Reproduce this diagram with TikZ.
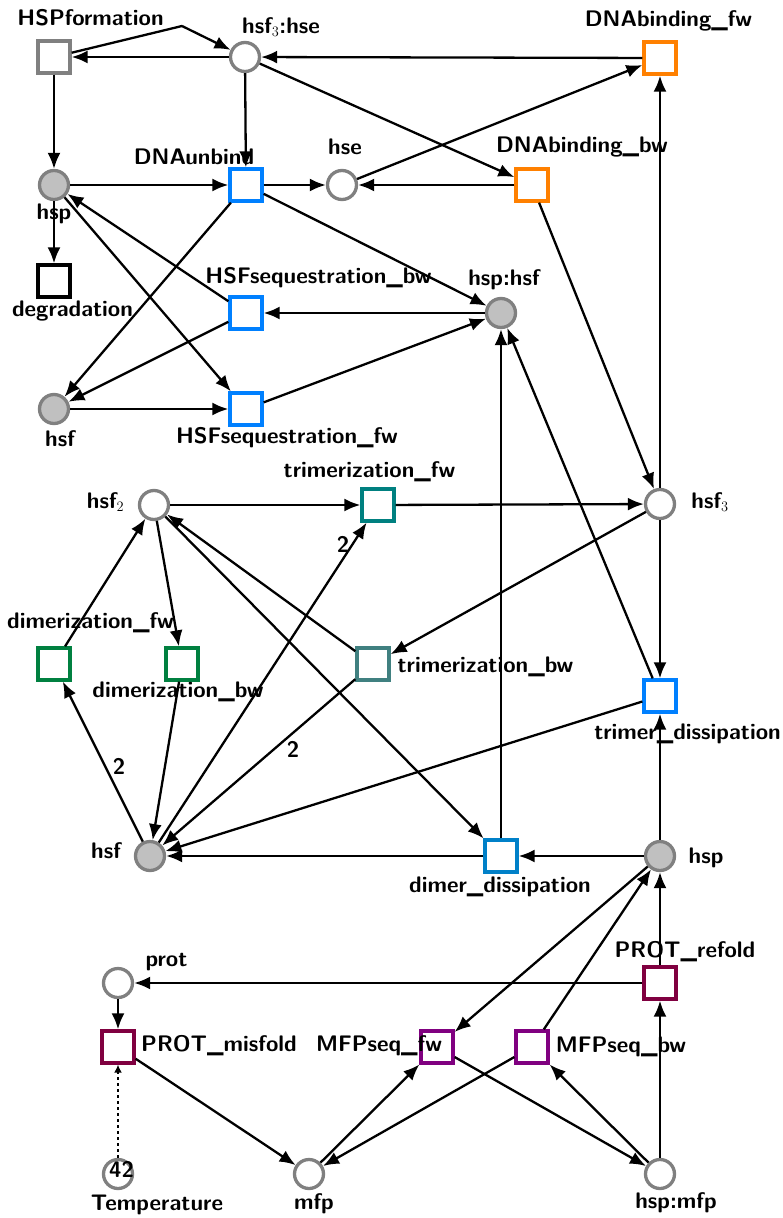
\documentclass[tikz,border=0pt]{standalone}
\usepackage{fontspec}
\usetikzlibrary{arrows.meta}
\definecolor{pgray}{RGB}{128,128,128}
\definecolor{pfill}{RGB}{192,192,192}
\definecolor{porange}{RGB}{255,128,0}
\definecolor{pblue}{RGB}{0,128,255}
\definecolor{pdblue}{RGB}{0,128,200}
\definecolor{pteal}{RGB}{0,128,128}
\definecolor{pgteal}{RGB}{64,128,128}
\definecolor{pgreen}{RGB}{0,128,64}
\definecolor{pmaroon}{RGB}{128,0,64}
\definecolor{ppurple}{RGB}{128,0,128}
\begin{document}
\begin{tikzpicture}[x=1pt,y=-1pt,
 place/.style={circle,draw=pgray,line width=3.3pt,minimum size=29pt,inner sep=0pt,fill=white},
 token/.style={place,fill=pfill},
 trans/.style={rectangle,line width=3.3pt,minimum size=32pt,inner sep=0pt,fill=white},
 lbl/.style={font=\fontsize{22.5}{27}\selectfont\sffamily\bfseries,inner sep=0pt,anchor=base},
 arc/.style={line width=2.3pt,-{Latex[length=16pt,width=13pt]}},
 plainarc/.style={line width=2.3pt},
 modarc/.style={line width=2.3pt,dash pattern=on 3pt off 3pt,-{Latex[length=8pt,width=8pt]}}
]
\useasboundingbox (0,0) rectangle (782,1218);

% places
\node[place] (hsf3hse) at (245,57) {};
\node[token] (hspA) at (54,185) {};
\node[place] (hse) at (342,185) {};
\node[token] (hsphsf) at (501,313) {};
\node[token] (hsfA) at (54,409) {};
\node[place] (hsf2) at (154,505) {};
\node[place] (hsf3) at (660,504) {};
\node[token] (hsfB) at (150,856) {};
\node[token] (hspB) at (660,856) {};
\node[place] (prot) at (118,983) {};
\node[place] (temp) at (118,1174) {};
\node[place] (mfp) at (309,1174) {};
\node[place] (hspmfp) at (660,1174) {};

% transitions
\node[trans,draw=pgray] (hspform) at (54,57) {};
\node[trans,draw=porange] (dnafw) at (660,58) {};
\node[trans,draw=pblue] (dnaunbind) at (246,185) {};
\node[trans,draw=porange] (dnabw) at (532,185) {};
\node[trans,draw=black] (degr) at (54,281) {};
\node[trans,draw=pblue] (seqbw) at (246,313) {};
\node[trans,draw=pblue] (seqfw) at (246,409) {};
\node[trans,draw=pteal] (trifw) at (378,505) {};
\node[trans,draw=pgreen] (dimfw) at (54,664) {};
\node[trans,draw=pgreen] (dimbw) at (182,664) {};
\node[trans,draw=pgteal] (tribw) at (373,664) {};
\node[trans,draw=pblue] (tridis) at (660,696) {};
\node[trans,draw=pdblue] (dimdis) at (501,856) {};
\node[trans,draw=pmaroon] (refold) at (660,983) {};
\node[trans,draw=pmaroon] (misfold) at (118,1047) {};
\node[trans,draw=ppurple] (mfpfw) at (437,1047) {};
\node[trans,draw=ppurple] (mfpbw) at (532,1047) {};

% labels
\node[lbl] (l-hspform) at (90.5,25) {HSPformation};
\node[lbl] (l-hsf3hse) at (281,33) {hsf$_3$:hse};
\node[lbl] (l-dnafw) at (668.5,26) {DNAbinding\_fw};
\node[lbl] (l-dnaunbind) at (194,164) {DNAunbind};
\node[lbl] (l-hse) at (345,154) {hse};
\node[lbl] (l-dnabw) at (582,152) {DNAbinding\_bw};
\node[lbl] (l-hspA) at (54,219) {hsp};
\node[lbl] (l-degr) at (72.5,316) {degradation};
\node[lbl] (l-seqbw) at (318.5,283) {HSFsequestration\_bw};
\node[lbl] (l-hsphsf) at (504,285) {hsp:hsf};
\node[lbl] (l-hsfA) at (60,446) {hsf};
\node[lbl] (l-seqfw) at (287,443) {HSFsequestration\_fw};
\node[lbl] (l-hsf2) at (105.5,508) {hsf$_2$};
\node[lbl] (l-trifw) at (369.5,477) {trimerization\_fw};
\node[lbl] (l-hsf3) at (710,508) {hsf$_3$};
\node[lbl] (l-dimfw) at (90.5,628) {dimerization\_fw};
\node[lbl] (l-dimbw) at (178,697) {dimerization\_bw};
\node[lbl] (l-tribw) at (485.5,672) {trimerization\_bw};
\node[lbl] (l-tridis) at (687.5,739) {trimer\_dissipation};
\node[lbl] (l-hsfB) at (106,858) {hsf};
\node[lbl] (l-dimdis) at (500,892) {dimer\_dissipation};
\node[lbl] (l-hspB) at (706,863) {hsp};
\node[lbl] (l-prot) at (166.5,966) {prot};
\node[lbl] (l-refold) at (685,957) {PROT\_refold};
\node[lbl] (l-misfold) at (219,1051) {PROT\_misfold};
\node[lbl] (l-mfpfw) at (379,1051) {MFPseq\_fw};
\node[lbl] (l-mfpbw) at (621,1052) {MFPseq\_bw};
\node[lbl] (l-temp) at (157,1210) {Temperature};
\node[lbl] (l-mfp) at (314,1209) {mfp};
\node[lbl] (l-hspmfp) at (676,1208) {hsp:mfp};
\node[lbl] (tok-temp) at (121.5,1177) {42};

% weights
\node[lbl] (w1) at (343,552) {2};
\node[lbl] (w2) at (293,757) {2};
\node[lbl] (w3) at (119,774) {2};

% arcs
\coordinate (bend) at (182,26);
\draw[plainarc] (hspform) -- (bend);
\draw[arc] (bend) -- (hsf3hse);
\draw[arc] (hsf3hse) -- (hspform);
\draw[arc] (hspform) -- (hspA);
\draw[arc] (hspA) -- (degr);
\draw[arc] (hspA) -- (dnaunbind);
\draw[arc] (hsf3hse) -- (dnaunbind);
\draw[arc] (dnaunbind) -- (hse);
\draw[arc] (dnabw) -- (hse);
\draw[arc] (hse) -- (dnafw);
\draw[arc] (dnafw) -- (hsf3hse);
\draw[arc] (hsf3hse) -- (dnabw);
\draw[arc] (dnabw) -- (hsf3);
\draw[arc] (hsf3) -- (dnafw);
\draw[arc] (dnaunbind) -- (hsphsf);
\draw[arc] (dnaunbind) -- (hsfA);
\draw[arc] (seqbw) -- (hspA);
\draw[arc] (seqbw) -- (hsfA);
\draw[arc] (hsphsf) -- (seqbw);
\draw[arc] (hspA) -- (seqfw);
\draw[arc] (hsfA) -- (seqfw);
\draw[arc] (seqfw) -- (hsphsf);
\draw[arc] (dimdis) -- (hsphsf);
\draw[arc] (tridis) -- (hsphsf);
\draw[arc] (hsf3) -- (tridis);
\draw[arc] (hspB) -- (tridis);
\draw[arc] (tridis) -- (hsfB);
\draw[arc] (hspB) -- (dimdis);
\draw[arc] (dimdis) -- (hsfB);
\draw[arc] (hsf2) -- (dimdis);
\draw[arc] (hsf2) -- (trifw);
\draw[arc] (trifw) -- (hsf3);
\draw[arc] (hsf3) -- (tribw);
\draw[arc] (tribw) -- (hsf2);
\draw[arc] (tribw) -- (hsfB);
\draw[arc] (hsfB) -- (trifw);
\draw[arc] (dimfw) -- (hsf2);
\draw[arc] (hsfB) -- (dimfw);
\draw[arc] (hsf2) -- (dimbw);
\draw[arc] (dimbw) -- (hsfB);
\draw[arc] (hspB) -- (mfpfw);
\draw[arc] (mfpfw) -- (hspmfp);
\draw[arc] (mfp) -- (mfpfw);
\draw[arc] (mfpbw) -- (hspB);
\draw[arc] (mfpbw) -- (mfp);
\draw[arc] (hspmfp) -- (mfpbw);
\draw[arc] (hspmfp) -- (refold);
\draw[arc] (refold) -- (hspB);
\draw[arc] (refold) -- (prot);
\draw[arc] (prot) -- (misfold);
\draw[arc] (misfold) -- (mfp);
\draw[modarc] (temp) -- (misfold);
\end{tikzpicture}
\end{document}
